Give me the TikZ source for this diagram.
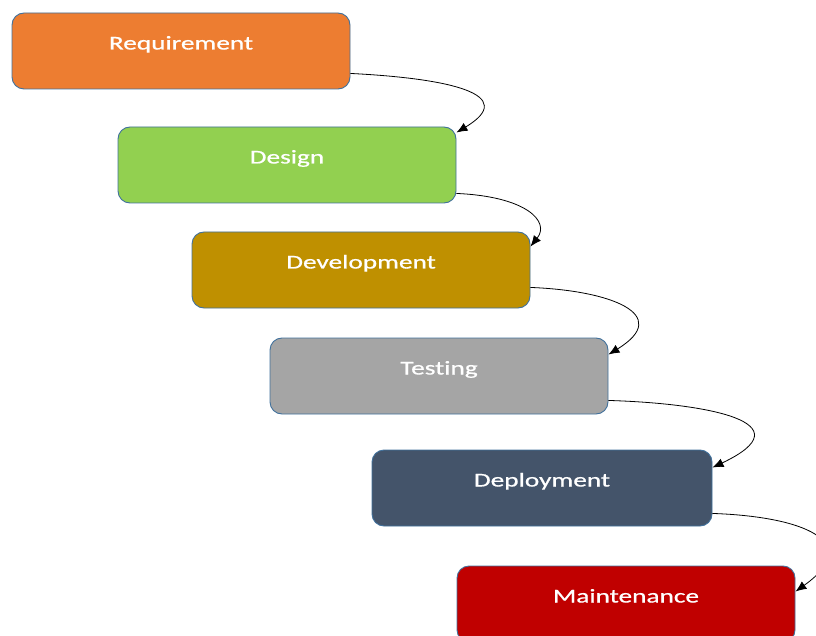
\documentclass[tikz,border=0pt]{standalone}
\usepackage{fontspec}
\setmainfont{Carlito}[FakeStretch=1.4, FakeBold=0.8, Ligatures=NoCommon]
\usepackage{tikz}
\usetikzlibrary{arrows.meta}
\definecolor{edge}{HTML}{41719C}
\definecolor{reqcol}{HTML}{ED7D31}
\definecolor{descol}{HTML}{92D050}
\definecolor{devcol}{HTML}{BF9000}
\definecolor{testcol}{HTML}{A5A5A5}
\definecolor{depcol}{HTML}{44546A}
\definecolor{maintcol}{HTML}{C00000}
\tikzset{phase/.style={draw=edge, line width=0.9pt, rounded corners=12pt, minimum width=338pt, minimum height=76pt, inner sep=0pt, text=white, font=\fontsize{19.5}{22}\selectfont, text height=12pt, text depth=15pt}}
\tikzset{flow/.style={line width=0.8pt, -{Latex[length=11pt,width=9pt]}}}

\begin{document}
\begin{tikzpicture}[x=1pt,y=-1pt]
\useasboundingbox (0,0) rectangle (816,636);
\node[phase, fill=reqcol] (req) at (181,51) {Requirement};
\node[phase, fill=descol] (des) at (287,165) {Design};
\node[phase, fill=devcol] (dev) at (361,270) {Development};
\node[phase, fill=testcol] (test) at (439,376) {Testing};
\node[phase, fill=depcol, minimum width=340pt] (dep) at (542,488) {Deployment};
\node[phase, fill=maintcol] (maint) at (626,604) {Maintenance};
\draw[flow] ([yshift=16pt]req.south east) .. controls +(100,5) and +(63,-38) .. ([yshift=-6pt]des.north east);
\draw[flow] ([yshift=10pt]des.south east) .. controls +(70,3) and +(20,-25) .. ([yshift=-15pt]dev.north east);
\draw[flow] ([yshift=21pt]dev.south east) .. controls +(80,3) and +(65,-40) .. ([yshift=-17pt]test.north east);
\draw[flow] ([yshift=14pt]test.south east) .. controls +(100,3) and +(95,-45) .. ([yshift=-18pt]dep.north east);
\draw[flow] ([yshift=13pt]dep.south east) .. controls +(90,3) and +(70,-50) .. ([yshift=-26pt]maint.north east);
\end{tikzpicture}
\end{document}
